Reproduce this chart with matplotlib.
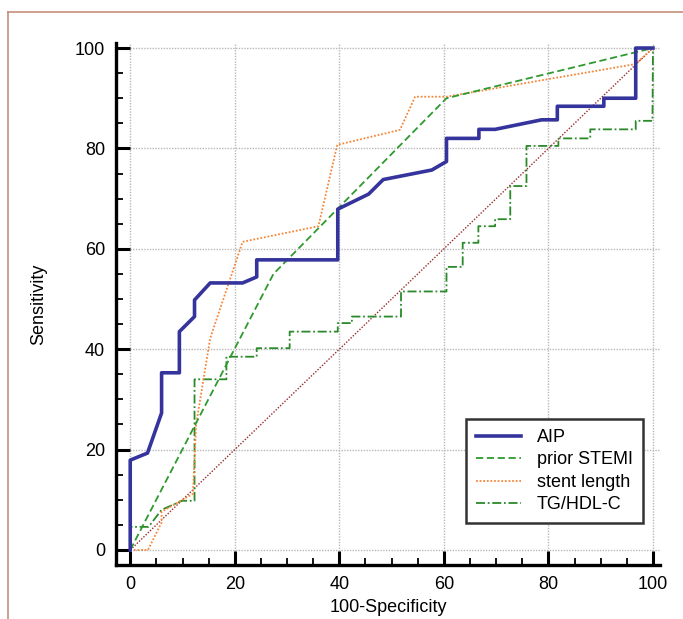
import matplotlib
matplotlib.use("Agg")
import matplotlib.pyplot as plt
from matplotlib.lines import Line2D

plt.rcParams["font.family"] = ["Liberation Sans", "DejaVu Sans"]

# ── ROC curve points (100-Specificity, Sensitivity) ─────────────────────────
aip_x = [0, 0, 3.3, 6.0, 6.0, 9.4, 9.4, 12.3, 12.3, 15.3, 21.5, 24.2, 24.2,
         39.7, 39.7, 45.6, 48.4, 57.7, 60.5, 60.5, 66.7, 66.7, 69.8, 78.7,
         81.7, 81.7, 90.6, 90.6, 96.7, 96.7, 100]
aip_y = [0, 17.9, 19.3, 27.3, 35.3, 35.3, 43.5, 46.5, 49.8, 53.2, 53.2, 54.4,
         57.8, 57.8, 67.9, 70.9, 73.8, 75.7, 77.4, 82.0, 82.0, 83.8, 83.8,
         85.7, 85.7, 88.4, 88.4, 90.0, 90.0, 100, 100]

stemi_x = [0, 27.4, 60.5, 100]
stemi_y = [0, 55.0, 90.0, 100]

stent_x = [0, 3.4, 6.0, 6.0, 12.0, 12.6, 15.3, 21.5, 36.0, 39.6, 51.6, 54.5,
           60.5, 96.6, 100]
stent_y = [0, 0, 5.5, 7.6, 11.2, 25.0, 42.2, 61.4, 64.5, 80.7, 83.7, 90.3,
           90.3, 96.8, 100]

tg_x = [0, 0, 3.5, 6.0, 9.9, 12.3, 12.3, 18.4, 18.4, 24.2, 24.2, 30.5, 30.5,
        39.7, 39.7, 42.4, 42.4, 51.8, 51.8, 60.5, 60.5, 63.6, 63.6, 66.6,
        66.6, 69.8, 69.8, 72.7, 72.7, 75.8, 75.8, 81.9, 81.9, 88.0, 88.0,
        96.7, 96.7, 99.9, 100]
tg_y = [0, 4.6, 4.6, 8.0, 9.8, 9.8, 34.0, 34.0, 38.5, 38.5, 40.2, 40.2, 43.5,
        43.5, 45.2, 45.2, 46.5, 46.5, 51.5, 51.5, 56.4, 56.4, 61.2, 61.2,
        64.5, 64.5, 65.9, 65.9, 72.5, 72.5, 80.5, 80.5, 82.0, 82.0, 83.8,
        83.8, 85.5, 85.5, 100]

ref_x = [0, 100]
ref_y = [0, 100]

labels = ["AIP", "prior STEMI", "stent length", "TG/HDL-C"]

# ── colours ─────────────────────────────────────────────────────────────────
_AIP = "#34349c"
_STEMI = "#2e9a2e"
_STENT = "#f5873a"
_TG = "#2a8a2a"
_REF = "#9a2a2a"
_FRAME = "#c4907c"

fig = plt.figure(figsize=(6.83, 6.19), dpi=100)
ax = fig.add_axes([0.170, 0.0872, 0.796, 0.8433])

ax.set_xlim(-2.7, 101.3)
ax.set_ylim(-3.0, 101.0)

ax.plot(ref_x, ref_y, color=_REF, lw=1.0, ls=(0, (1, 1.2)), zorder=2)
ax.plot(tg_x, tg_y, color=_TG, lw=1.3, ls=(0, (5, 1.5, 1, 1.5)),
        label=labels[3], zorder=3)
ax.plot(stent_x, stent_y, color=_STENT, lw=1.3, ls=(0, (1, 1)),
        label=labels[2], zorder=3)
ax.plot(stemi_x, stemi_y, color=_STEMI, lw=1.3, ls=(0, (4, 2)),
        label=labels[1], zorder=3)
ax.plot(aip_x, aip_y, color=_AIP, lw=2.6, label=labels[0], zorder=4)

# grid on major ticks only
ax.set_xticks(range(0, 101, 20))
ax.set_yticks(range(0, 101, 20))
ax.set_xticks(range(0, 101, 5), minor=True)
ax.set_yticks(range(0, 101, 5), minor=True)
ax.grid(True, which="major", color="#b8b8b8", ls=(0, (1, 1)), lw=1.0)

for side in ("top", "right"):
    ax.spines[side].set_visible(False)
for side in ("left", "bottom"):
    ax.spines[side].set_linewidth(2.4)
    ax.spines[side].set_color("black")

ax.tick_params(which="major", direction="in", length=10, width=2.2,
               labelsize=13, pad=8)
ax.tick_params(which="minor", direction="in", length=5, width=1.3)

ax.set_xlabel("100-Specificity", fontsize=13, labelpad=4)
ax.set_ylabel("Sensitivity", fontsize=13, labelpad=20)

handles, labs = ax.get_legend_handles_labels()
order = [labels.index(l) for l in labs]
pairs = sorted(zip(order, handles, labs))
leg = ax.legend([h for _, h, _ in pairs], [l for _, _, l in pairs],
                loc="lower right", bbox_to_anchor=(0.969, 0.08),
                fontsize=13, frameon=True, fancybox=False, framealpha=1,
                handlelength=2.5, handletextpad=0.9, borderaxespad=0,
                labelspacing=0.3, borderpad=0.55)
leg.get_frame().set_edgecolor("#333333")
leg.get_frame().set_linewidth(1.8)

# page frame (left and top edges)
fig.add_artist(Line2D([8 / 683, 8 / 683], [0, 1 - 12 / 619],
                      transform=fig.transFigure, color=_FRAME, lw=1.2))
fig.add_artist(Line2D([8 / 683, 1], [1 - 12 / 619, 1 - 12 / 619],
                      transform=fig.transFigure, color=_FRAME, lw=1.2))

fig.savefig("out.png", dpi=100)
